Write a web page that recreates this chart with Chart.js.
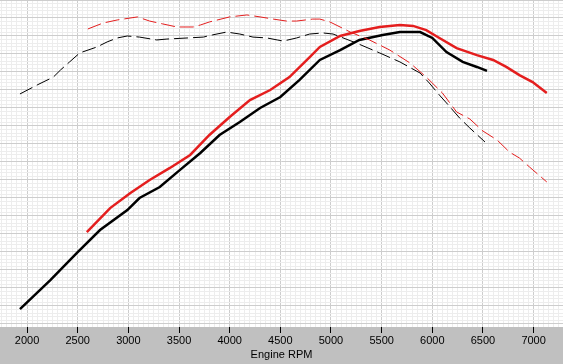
<!DOCTYPE html>
<html>
<head>
<meta charset="utf-8">
<script src="https://cdn.jsdelivr.net/npm/chart.js@4"></script>
<style>
  body { margin: 0; background: #c0c0c0; }
  canvas { display: block; }
</style>
</head>
<body>
<canvas id="dyno" width="563" height="364"></canvas>
<script>
// Courbes du banc : régime (tr/min) et valeur
const runA_powerRpm = [1930, 2230, 2490, 2720, 2990, 3110, 3310, 3510, 3710, 3900, 4100, 4300, 4500, 4690, 4890, 5090, 5280, 5510, 5680, 5880, 6000, 6140, 6300, 6440, 6540];
const runA_power    = [8.3, 24.4, 39.4, 52.2, 63.3, 70.0, 76.1, 85.6, 95.0, 105.0, 112.2, 120.0, 126.1, 135.6, 146.7, 152.2, 157.8, 160.6, 162.2, 162.2, 158.9, 151.1, 145.6, 142.8, 140.6];

const runB_powerRpm = [2590, 2820, 3020, 3210, 3410, 3610, 3800, 4000, 4200, 4400, 4590, 4790, 4890, 5090, 5280, 5480, 5680, 5810, 5940, 6070, 6240, 6440, 6600, 6730, 6860, 6990, 7130];
const runB_power    = [51.1, 64.4, 72.8, 80.0, 86.7, 93.9, 105.0, 115.0, 124.4, 130.0, 137.2, 148.3, 153.9, 160.0, 162.8, 165.0, 166.1, 165.6, 163.3, 158.9, 153.3, 149.4, 146.7, 142.8, 138.3, 134.4, 128.3];

const runB_torqueRpm = [2600, 2750, 2890, 3090, 3210, 3340, 3480, 3640, 3710, 3800, 4000, 4170, 4300, 4430, 4560, 4660, 4820, 4890, 4990, 5190, 5380, 5580, 5780, 5940, 6100, 6240, 6370, 6500, 6640, 6760, 6860, 6960, 7130];
const runB_torque    = [163.9, 167.2, 168.9, 170.6, 168.3, 166.7, 165.0, 165.0, 166.1, 167.8, 170.6, 171.7, 170.6, 169.4, 168.3, 168.3, 169.4, 169.4, 167.8, 162.2, 157.8, 152.2, 145.0, 137.2, 128.3, 117.8, 113.9, 107.2, 102.2, 95.6, 92.2, 87.2, 78.9];

const runA_torqueRpm = [1930, 2100, 2260, 2330, 2420, 2520, 2690, 2790, 2890, 2990, 3110, 3280, 3380, 3580, 3740, 3830, 3970, 4100, 4230, 4370, 4470, 4530, 4660, 4790, 4920, 5020, 5250, 5480, 5680, 5880, 5970, 6070, 6140, 6270, 6370, 6520];
const runA_torque    = [127.8, 132.8, 137.2, 141.1, 145.6, 150.6, 153.9, 156.7, 158.9, 160.0, 159.4, 157.8, 158.3, 158.9, 159.4, 160.6, 162.2, 161.1, 159.4, 158.9, 157.8, 157.2, 158.9, 161.1, 161.7, 161.1, 156.1, 150.6, 145.6, 139.4, 133.9, 127.2, 122.8, 114.4, 108.9, 101.1];

// attention : (max - min) / 50 ne doit pas tomber presque entier, sinon chart.js décale les ticks
const rpmMin = 1733, rpmMax = 7290;

function pts(xs, ys) {
  return xs.map((x, i) => ({ x: x, y: ys[i] }));
}

// fond gris + zone de tracé blanche
const bgPlugin = {
  id: 'bg',
  beforeDraw(chart) {
    const { ctx, chartArea: a } = chart;
    ctx.save();
    ctx.fillStyle = '#c0c0c0';
    ctx.fillRect(0, 0, chart.width, chart.height);
    ctx.fillStyle = '#ffffff';
    ctx.fillRect(a.left, a.top, a.right - a.left, a.bottom - a.top);
    ctx.restore();
  }
};

const RED = '#e41e1e';
const isMajorX = c => c.tick && Math.round(c.tick.value) % 500 === 0;
const isMajorY = c => c.tick && Math.round(c.tick.value) % 10 === 0;

new Chart(document.getElementById('dyno'), {
  type: 'line',
  data: {
    datasets: [
      { data: pts(runA_torqueRpm, runA_torque), borderColor: '#000', borderWidth: 1, borderDash: [14, 5] },
      { data: pts(runB_torqueRpm, runB_torque), borderColor: RED, borderWidth: 1, borderDash: [14, 5] },
      { data: pts(runA_powerRpm, runA_power), borderColor: '#000', borderWidth: 2.5 },
      { data: pts(runB_powerRpm, runB_power), borderColor: RED, borderWidth: 2.5 }
    ]
  },
  options: {
    responsive: false,
    animation: false,
    parsing: false,
    elements: { point: { radius: 0 }, line: { tension: 0 } },
    layout: { padding: 0 },
    plugins: { legend: { display: false }, tooltip: { enabled: false } },
    scales: {
      x: {
        type: 'linear',
        min: rpmMin,
        max: rpmMax,
        border: { display: false },
        grid: {
          color: c => isMajorX(c) ? '#cdcdcd' : '#ededed',
          tickColor: c => isMajorX(c) ? '#000' : 'rgba(0,0,0,0)',
          tickLength: 6,
          lineWidth: 1
        },
        ticks: {
          stepSize: 50,
          includeBounds: false,
          autoSkip: false,
          maxRotation: 0,
          padding: 1,
          color: '#000',
          font: { family: 'Liberation Sans', size: 11 },
          callback: v => (Math.round(v) % 500 === 0 ? String(Math.round(v)) : '')
        },
        title: {
          display: true,
          text: 'Engine RPM',
          color: '#000',
          font: { family: 'Liberation Sans', size: 11 },
          padding: { top: 0, bottom: 2 }
        },
        afterFit: s => { s.height = 37; }
      },
      y: {
        min: -1.67,
        max: 180,
        border: { display: false },
        grid: {
          color: c => isMajorY(c) ? '#cdcdcd' : '#ededed',
          drawTicks: false,
          lineWidth: 1
        },
        ticks: { display: false, stepSize: 2, includeBounds: false },
        afterFit: s => { s.width = 0; }
      }
    }
  },
  plugins: [bgPlugin]
});
</script>
</body>
</html>
